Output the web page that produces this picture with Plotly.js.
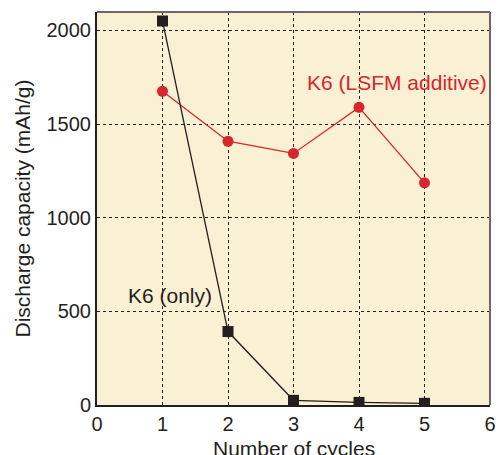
<!DOCTYPE html>
<html><head><meta charset="utf-8">
<script src="https://cdn.plot.ly/plotly-3.0.1.min.js"></script>
<style>html,body{margin:0;padding:0;background:#fff}#chart{width:499px;height:455px}</style>
</head><body><div id="chart"></div>
<script>
const cycles = [1, 2, 3, 4, 5];
const k6Only = [2050, 392, 25, 14, 9];
const k6Lsfm = [1675, 1408, 1343, 1589, 1186];
const seriesNames = ["K6 (only)", "K6 (LSFM additive)"];
const xTicks = [0, 1, 2, 3, 4, 5, 6];
const yTicks = [0, 500, 1000, 1500, 2000];
const xTitle = "Number of cycles";
const yTitle = "Discharge capacity (mAh/g)";

const font = "Liberation Sans, Arial, sans-serif";
const traces = [
  {x: cycles, y: k6Lsfm, name: seriesNames[1], mode: "lines+markers",
   line: {color: "#d7262c", width: 1.3}, marker: {symbol: "circle", size: 11, color: "#d7262c"}},
  {x: cycles, y: k6Only, name: seriesNames[0], mode: "lines+markers",
   line: {color: "#231f20", width: 1.3}, marker: {symbol: "square", size: 11, color: "#231f20"}}
];
const layout = {
  width: 499, height: 455,
  margin: {l: 97, r: 9, t: 12, b: 50},
  paper_bgcolor: "#ffffff", plot_bgcolor: "#faf0d4",
  showlegend: false,
  font: {family: font, size: 20, color: "#231f20"},
  xaxis: {range: [0, 6], tickvals: xTicks, ticktext: xTicks.map(String),
    showgrid: true, gridcolor: "#231f20", griddash: "dot", gridwidth: 1,
    zeroline: false, showline: true, linecolor: "#231f20", linewidth: 2, mirror: false,
    ticks: "", tickfont: {size: 20}},
  yaxis: {range: [0, 2098], tickvals: yTicks, ticktext: yTicks.map(String),
    showgrid: true, gridcolor: "#231f20", griddash: "dot", gridwidth: 1,
    zeroline: false, showline: true, linecolor: "#231f20", linewidth: 2, mirror: false,
    ticks: "", tickfont: {size: 20},
    title: {text: yTitle, font: {size: 21}, standoff: 10}},
  shapes: [
    {type: "line", xref: "paper", yref: "paper", x0: 0, x1: 1, y0: 1, y1: 1, line: {color: "#6d6a66", width: 2}},
    {type: "line", xref: "paper", yref: "paper", x0: 1, x1: 1, y0: 0, y1: 1, line: {color: "#6d6a66", width: 2}}
  ],
  annotations: [
    {x: 4.58, y: 1720, xref: "x", yref: "y", text: seriesNames[1], showarrow: false,
     font: {size: 21, color: "#d7262c"}},
    {x: 1.12, y: 585, xref: "x", yref: "y", text: seriesNames[0], showarrow: false,
     font: {size: 21, color: "#231f20"}},
    {x: 0.5, y: 0, xref: "paper", yref: "paper", yanchor: "top", yshift: -30,
     text: xTitle, showarrow: false, font: {size: 21, color: "#231f20"}}
  ]
};
Plotly.newPlot("chart", traces, layout, {displayModeBar: false, staticPlot: true});
</script></body></html>
